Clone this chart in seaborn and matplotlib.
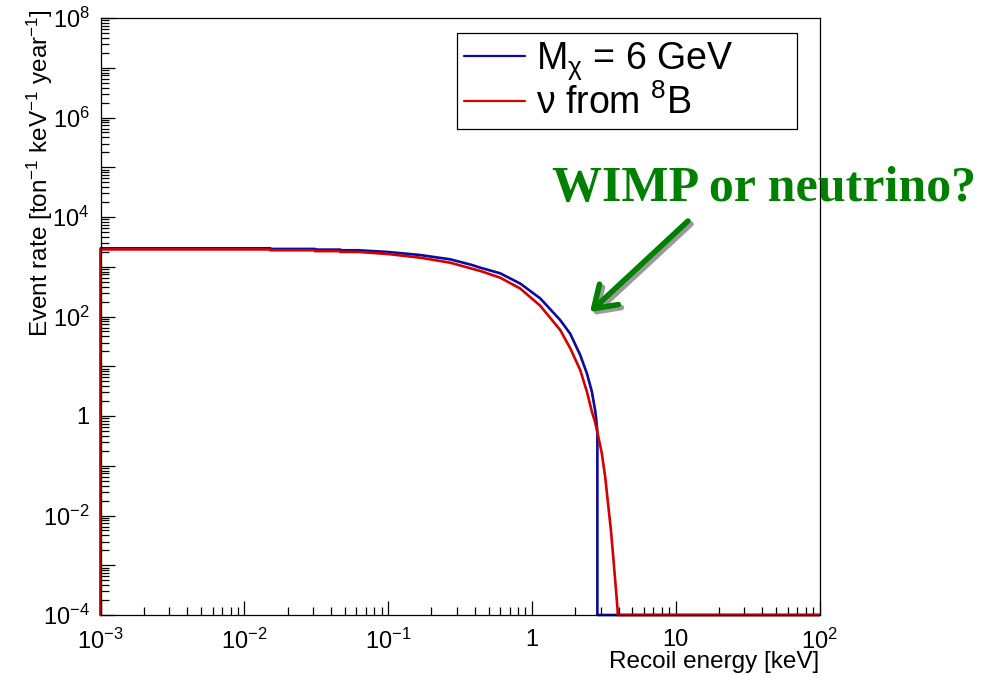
import numpy as np
import pandas as pd
import matplotlib
matplotlib.use("Agg")
import matplotlib.pyplot as plt
import seaborn as sns

# ---------------- data ----------------
wimp_energy = [0.001, 0.001, 0.0151, 0.0151, 0.031, 0.031, 0.0465, 0.0465, 0.062,
               0.10, 0.167, 0.27, 0.38, 0.437, 0.601, 0.828, 1.14, 1.571,
               1.845, 2.165, 2.41, 2.61, 2.75, 2.80, 2.85, 2.85, 100.0]
wimp_rate = [0, 2350, 2350, 2280, 2280, 2210, 2210, 2145, 2145,
             1980, 1720, 1410, 1090, 957, 738, 460, 232, 85,
             45, 16.8, 7.2, 3.08, 1.3, 0.85, 0.48, 0, 0]

nu_energy = [0.001, 0.001, 0.0151, 0.0151, 0.031, 0.031, 0.0465, 0.0465, 0.062,
             0.10, 0.167, 0.27, 0.437, 0.601, 0.828, 1.14, 1.571,
             1.845, 2.165, 2.41, 2.61, 2.75, 2.86, 3.06, 3.23, 3.40, 3.54, 3.69,
             3.84, 3.94, 3.95, 100.0]
nu_rate = [0, 2230, 2230, 2145, 2145, 2060, 2060, 1985, 1985,
           1800, 1520, 1206, 822, 603, 365, 165, 53.6,
           23, 8.4, 3.08, 1.22, 0.75, 0.45, 0.178, 0.060, 0.0150, 0.0051, 0.00128,
           0.00032, 0.000126, 0, 0]

series_labels = [r"M$_{\mathregular{\chi}}$ = 6 GeV", r"ν from $^{8}$B"]
series_colors = ["#0b0b9c", "#d50000"]

xtick_values = [1e-3, 1e-2, 1e-1, 1, 10, 100]
xtick_labels = [r"$10^{-3}$", r"$10^{-2}$", r"$10^{-1}$", "1", "10", r"$10^{2}$"]
ytick_values = [1e-4, 1e-3, 1e-2, 1e-1, 1, 1e1, 1e2, 1e3, 1e4, 1e5, 1e6, 1e7, 1e8]
ytick_labels = [r"$10^{-4}$", "", r"$10^{-2}$", "", "1", "", r"$10^{2}$", "",
                r"$10^{4}$", "", r"$10^{6}$", "", r"$10^{8}$"]

x_label = "Recoil energy [keV]"
y_label = r"Event rate [ton$^{-1}$ keV$^{-1}$ year$^{-1}$]"
note_text = "WIMP or neutrino?"

YMIN, YMAX = 1e-4, 1e8
XMIN, XMAX = 1e-3, 1e2

# ---------------- style ----------------
sns.set_theme(style="white")
plt.rcParams["font.family"] = ["Liberation Sans", "DejaVu Sans"]
plt.rcParams["mathtext.fontset"] = "custom"
plt.rcParams["mathtext.rm"] = "Liberation Sans"
plt.rcParams["mathtext.it"] = "Liberation Sans:italic"
plt.rcParams["mathtext.bf"] = "Liberation Sans:bold"
plt.rcParams["text.color"] = "black"
plt.rcParams["xtick.color"] = "black"
plt.rcParams["ytick.color"] = "black"
plt.rcParams["axes.labelcolor"] = "black"

W, H = 987, 678
fig = plt.figure(figsize=(W / 100, H / 100), dpi=100)
ax = fig.add_axes([100.7 / W, 1 - 615 / H, (819.5 - 100.7) / W, (615 - 18) / H])

# empty bins are drawn at the axis minimum (as ROOT does)
df_w = pd.DataFrame({"E": wimp_energy, "R": np.clip(wimp_rate, YMIN, None)})
df_n = pd.DataFrame({"E": nu_energy, "R": np.clip(nu_rate, YMIN, None)})

sns.lineplot(data=df_w, x="E", y="R", sort=False, estimator=None, ax=ax,
             color=series_colors[0], linewidth=1.9, label=series_labels[0],
             clip_on=False)
sns.lineplot(data=df_n, x="E", y="R", sort=False, estimator=None, ax=ax,
             color=series_colors[1], linewidth=1.9, label=series_labels[1],
             clip_on=False)

ax.set_xscale("log")
ax.set_yscale("log")
ax.set_xlim(XMIN, XMAX)
ax.set_ylim(YMIN, YMAX)

ax.set_xticks(xtick_values)
ax.set_xticklabels(xtick_labels)
ax.set_yticks(ytick_values)
ax.set_yticklabels(ytick_labels)
ax.xaxis.set_minor_locator(matplotlib.ticker.LogLocator(base=10, subs=np.arange(2, 10), numticks=50))
ax.yaxis.set_minor_locator(matplotlib.ticker.LogLocator(base=10, subs=np.arange(2, 10), numticks=50))
ax.xaxis.set_minor_formatter(matplotlib.ticker.NullFormatter())
ax.yaxis.set_minor_formatter(matplotlib.ticker.NullFormatter())

ax.tick_params(axis="both", which="major", direction="in", length=10, width=0.9,
               color="black", labelcolor="black", labelsize=17,
               bottom=True, left=True, top=False, right=False)
ax.tick_params(axis="x", which="major", pad=10)
ax.tick_params(axis="y", which="major", pad=8)
ax.tick_params(axis="both", which="minor", direction="in", length=5.5, width=0.9,
               color="black", bottom=True, left=True, top=False, right=False)
for sp in ax.spines.values():
    sp.set_visible(True)
    sp.set_color("black")
    sp.set_linewidth(0.9)

ax.set_xlabel("")
ax.set_ylabel("")
fig.text(819.5 / W, 1 - 662 / H, x_label, ha="right", va="center", fontsize=17.5)
fig.text(40 / W, 1 - 9 / H, y_label, ha="center", va="top", rotation=90, fontsize=17.5)

# legend
leg = ax.legend(loc="upper left",
                bbox_to_anchor=(457 / W, 1 - 127 / H, (797 - 457) / W, (127 - 33) / H),
                bbox_transform=fig.transFigure, mode="expand",
                fontsize=27, frameon=True, fancybox=False, edgecolor="black",
                framealpha=1, borderpad=0.2, labelspacing=0.05,
                handlelength=1.6, handletextpad=0.3, borderaxespad=0)
leg.get_frame().set_linewidth(0.9)
for line in leg.get_lines():
    line.set_linewidth(1.6)
for t in leg.get_texts():
    t.set_color("black")

# annotation text and arrow
fig.text(552 / W, 1 - 201 / H, note_text, ha="left", va="baseline",
         fontsize=36, fontweight="bold", color="#008000",
         family=["Liberation Serif", "DejaVu Serif"])

tail = (688, H - 221)
tip = (590, H - 312)
arrow_style = "->,head_length=0.75,head_width=0.5"
ax.annotate("", xy=(tip[0] + 3, tip[1] - 3), xytext=(tail[0] + 3, tail[1] - 3),
            xycoords="figure pixels", textcoords="figure pixels",
            arrowprops=dict(arrowstyle=arrow_style, color="#9a9a9a", lw=4,
                            shrinkA=0, shrinkB=0, mutation_scale=20))
ax.annotate("", xy=tip, xytext=tail,
            xycoords="figure pixels", textcoords="figure pixels",
            arrowprops=dict(arrowstyle=arrow_style, color="#008000", lw=4,
                            shrinkA=0, shrinkB=0, mutation_scale=20))

fig.savefig("out.png", dpi=100)
